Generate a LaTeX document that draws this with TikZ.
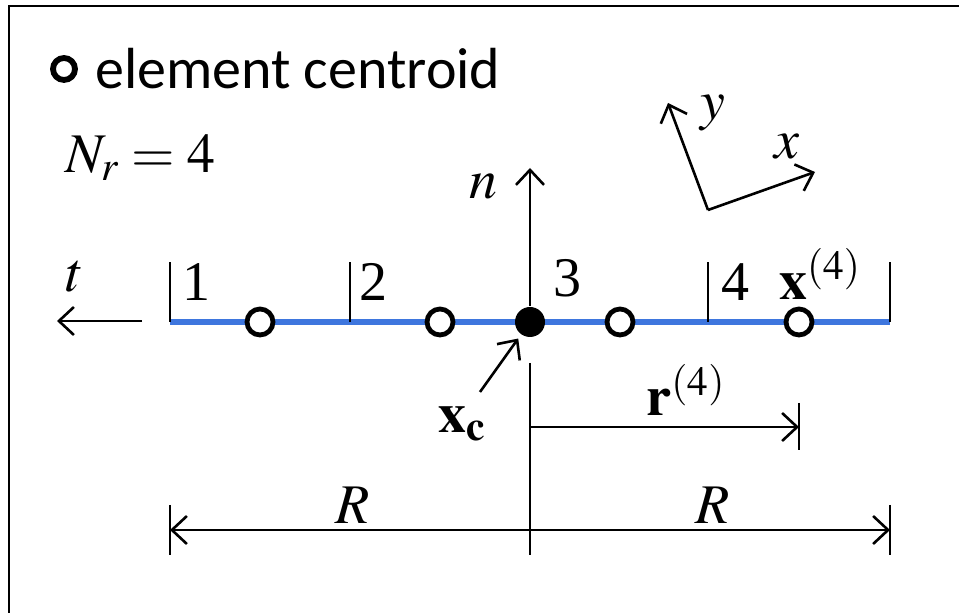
\documentclass[tikz,border=0pt]{standalone}
\usepackage{mathptmx}
\usepackage{fontspec}
\setmainfont{Liberation Serif}
\newfontfamily\legendfont{Carlito}
\usetikzlibrary{arrows.meta,positioning}
\definecolor{segblue}{RGB}{62,118,222}

\begin{document}
\begin{tikzpicture}[x=0.5pt, y=-0.5pt, line width=1.3pt,
    >={Straight Barb[length=7.5pt,width=14pt,line width=1.3pt]},
    cent/.style={circle, draw, line width=2.4pt, fill=white, minimum size=13pt, inner sep=0pt},
    ctr/.style={circle, fill=black, minimum size=15pt, inner sep=0pt},
    lbl/.style={font=\fontsize{28}{32}\selectfont, inner sep=1pt}]
  \useasboundingbox (0,0) rectangle (959,613);
  \draw[line width=1pt] (9,613) -- (9,6) -- (959,6);

  \node[cent, minimum size=11pt, line width=2.9pt] (leg) at (64,69) {};
  \node[lbl, font=\legendfont\fontsize{29}{32}\selectfont, right=7pt of leg] (legtxt) {element centroid};
  \node[lbl, anchor=west] (nr) at (62,158) {$N_r = 4$};

  \coordinate (e0) at (170,322);
  \coordinate (e1) at (350,322);
  \coordinate (e3) at (708,322);
  \coordinate (e4) at (890,322);
  \draw[segblue, line width=2.6pt] (e0) -- (e4);
  \foreach \i in {0,1,3,4} \draw (e\i) -- ++(0,-60);

  \node[lbl] (s1) at (196,282) {1};
  \node[lbl] (s2) at (373,282) {2};
  \node[lbl] (s3) at (567,278) {3};
  \node[lbl] (s4) at (735,282) {4};
  \node[lbl] (x4) at (820,274) {$\mathbf{x}^{(4)}$};

  \foreach \x [count=\i] in {260,440,620,799} \node[cent] (c\i) at (\x,322) {};
  \node[ctr] (xc) at (530,322) {};

  \coordinate (ntip) at (530,168);
  \draw[->] (xc) -- (ntip);
  \node[lbl] (nlbl) at (483,187) {$n$};

  \coordinate (t0) at (142,321);
  \coordinate (t1) at (57,321);
  \draw[->] (t0) -- (t1);
  \node[lbl] (tlbl) at (75,277) {$t$};

  \coordinate (o) at (708,210);
  \coordinate (xax) at (815,172);
  \coordinate (yax) at (668,103);
  \draw[->] (o) -- (xax);
  \draw[->] (o) -- (yax);
  \node[lbl] (ylbl) at (713,113) {$y$};
  \node[lbl] (xlbl) at (787,147) {$x$};

  \node[lbl] (xclbl) at (462,424) {$\mathbf{x}_{\mathbf{c}}$};
  \coordinate (xcarr) at (480,392);
  \draw[->, shorten >=2pt] (xcarr) -- (xc);

  \coordinate (v0) at (530,363);
  \coordinate (v1) at (530,555);
  \draw (v0) -- (v1);

  \coordinate (r0) at (530,427);
  \coordinate (r1) at (799,427);
  \draw[->] (r0) -- (r1);
  \draw (799,403) -- (799,450);
  \node[lbl] (rlbl) at (686,390) {$\mathbf{r}^{(4)}$};

  \coordinate (Rl) at (170,530);
  \coordinate (Rr) at (890,530);
  \draw[<->] (Rl) -- (Rr);
  \draw (170,505) -- (170,555);
  \draw (890,505) -- (890,555);
  \node[lbl] (Rleft) at (353,505) {$R$};
  \node[lbl] (Rright) at (713,505) {$R$};
\end{tikzpicture}
\end{document}
